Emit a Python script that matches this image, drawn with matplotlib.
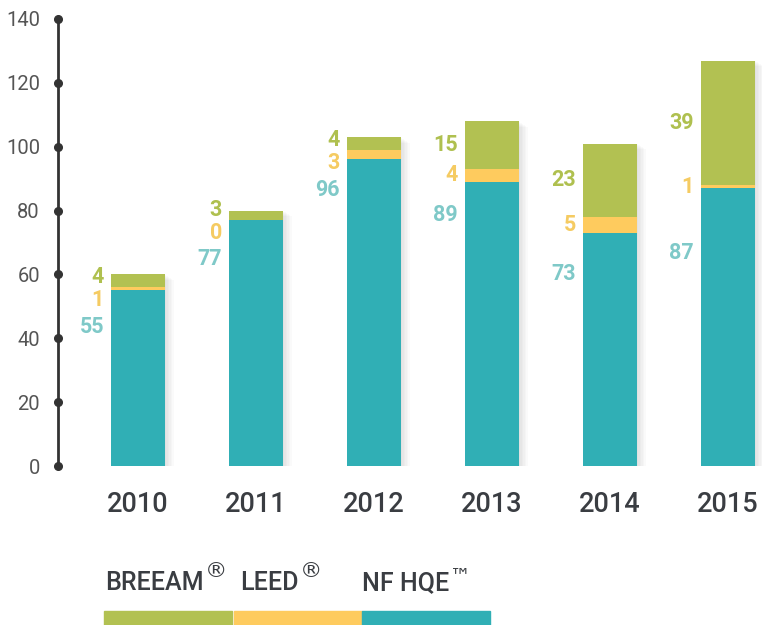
import matplotlib
matplotlib.use("Agg")
import matplotlib.pyplot as plt
from matplotlib.patches import Rectangle
import numpy as np

plt.rcParams['font.family'] = ['Roboto', 'DejaVu Sans']

years = ["2010", "2011", "2012", "2013", "2014", "2015"]
hqe = [55, 77, 96, 89, 73, 87]
leed = [1, 0, 3, 4, 5, 1]
breeam = [4, 3, 4, 15, 23, 39]
yticks = [0, 20, 40, 60, 80, 100, 120, 140]
legend_labels = ["BREEAM", "LEED", "NF HQE"]
legend_marks = ["®", "®", "™"]

c_green = "#B2C152"
c_yellow = "#FECB5E"
c_teal = "#30AFB5"
l_green = "#AFC04F"
l_yellow = "#F5CB62"
l_teal = "#7FC9C8"

fig = plt.figure(figsize=(7.62, 6.25), dpi=100)
ax = fig.add_axes([58/762, 159/625, 704/762, 447/625])
x = np.arange(len(years))
w = 0.458
hqe_a = np.array(hqe); leed_a = np.array(leed); br_a = np.array(breeam)

# soft shadow
for k in range(6):
    off = 0.012 * (k + 1)
    ax.bar(x + off, hqe_a + leed_a + br_a, w, bottom=-0.3 * (k + 1),
           color="#000000", alpha=0.018, zorder=1, linewidth=0)

ax.bar(x, hqe_a, w, color=c_teal, zorder=3, linewidth=0)
ax.bar(x, leed_a, w, bottom=hqe_a, color=c_yellow, zorder=3, linewidth=0)
ax.bar(x, br_a, w, bottom=hqe_a + leed_a, color=c_green, zorder=3, linewidth=0)

ax.set_xlim(-0.678, 5.288)
ax.set_ylim(0, 140)
for s in ["top", "right", "bottom"]:
    ax.spines[s].set_visible(False)
ax.spines["left"].set_color("#333333")
ax.spines["left"].set_linewidth(2)
ax.set_yticks(yticks)
ax.set_yticklabels([str(t) for t in yticks], fontsize=14.5, color="#555555", fontweight="normal")
ax.tick_params(axis="y", length=0, pad=13)
ax.plot(np.full(len(yticks), -0.678), yticks, "o", color="#333333", ms=5.5, clip_on=False, zorder=5)
ax.set_xticks(x)
ax.set_xticklabels(years, fontsize=19.5, color="#3a3d42", fontweight="medium")
ax.tick_params(axis="x", length=0, pad=18)

# value labels
for i in range(len(years)):
    top = hqe[i] + leed[i] + breeam[i]
    g0 = hqe[i] + leed[i]
    yg = (g0 + top) / 2 + max(0, 6 - breeam[i]) * 0.6
    yy = min(hqe[i] + leed[i] / 2, yg - 7.2)
    yt = yy - 7.2 - 0.35 * breeam[i]
    for val, yv, col in [(breeam[i], yg, l_green), (leed[i], yy, l_yellow), (hqe[i], yt, l_teal)]:
        ax.annotate(str(val), xy=(x[i] - w / 2, yv), xytext=(-5, 0), textcoords="offset points",
                    ha="right", va="center", fontsize=15.5, fontweight="bold", color=col, zorder=6)

# legend
lx = [105, 240, 362]
for t, m, px in zip(legend_labels, legend_marks, lx):
    tt = fig.text(px / 762, 1 - 583 / 625, t, fontsize=18, color="#3a3d42", fontweight="medium",
                  ha="left", va="center")
    fig.canvas.draw()
    bb = tt.get_window_extent()
    if m == "®":
        fig.text((bb.x1 + 1) / 762, 1 - 571 / 625, m, fontsize=16, color="#3a3d42",
                 ha="left", va="center", family=["DejaVu Sans"])
    else:
        fig.text((bb.x1 + 1) / 762, 1 - 576 / 625, m, fontsize=15, color="#3a3d42",
                 ha="left", va="center", family=["DejaVu Sans"])
segs = [(104, 232, c_green), (234, 362, c_yellow), (362, 490, c_teal)]
for a, b, c in segs:
    fig.patches.append(Rectangle((a / 762, 0), (b - a) / 762, 14 / 625,
                                 transform=fig.transFigure, color=c, figure=fig))

fig.savefig("out.png", dpi=100)
